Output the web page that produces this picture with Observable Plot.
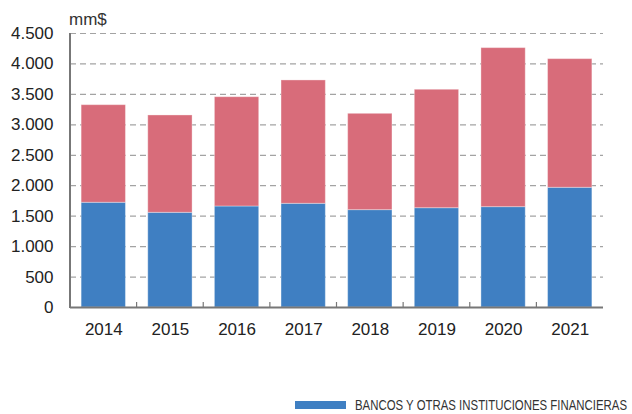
<!DOCTYPE html>
<html>
<head>
<meta charset="utf-8">
<script src="https://cdn.jsdelivr.net/npm/d3@7"></script>
<script src="https://cdn.jsdelivr.net/npm/@observablehq/plot@0.6"></script>
<style>
  html, body { margin: 0; padding: 0; background: #fff; }
  #wrap { position: relative; width: 632px; height: 414px; font-family: "Liberation Sans", Arial, sans-serif; color: #222; }
  #unit { position: absolute; left: 69px; top: 10px; font-size: 17px; color: #333; }
  #legend { position: absolute; left: 295px; top: 396px; display: flex; align-items: center; white-space: nowrap; }
  #legend .sw { width: 51px; height: 8px; background: #3f7fc2; margin-right: 9px; flex: none; }
  #legend .lb { font-family: "Liberation Sans", Arial, sans-serif; font-size: 15px; color: #333; transform-origin: left center; display: inline-block; }
</style>
</head>
<body>
<div id="wrap">
  <div id="chart"></div>
  <div id="unit">mm$</div>
  <div id="legend"><div class="sw"></div><div class="lb" id="lb">BANCOS Y OTRAS INSTITUCIONES FINANCIERAS</div></div>
</div>
<script>
const years = ["2014", "2015", "2016", "2017", "2018", "2019", "2020", "2021"];
const bancos = [1720, 1555, 1659, 1703, 1599, 1631, 1648, 1966];
const otros = [1603, 1599, 1795, 2026, 1582, 1945, 2612, 2113];
const series = ["BANCOS Y OTRAS INSTITUCIONES FINANCIERAS", "OTROS"];
const colors = ["#3f7fc2", "#d86c7a"];
const yTicks = [0, 500, 1000, 1500, 2000, 2500, 3000, 3500, 4000, 4500];

const rows = [];
years.forEach((y, i) => {
  rows.push({year: y, serie: series[0], value: bancos[i]});
  rows.push({year: y, serie: series[1], value: otros[i]});
});

const fmt = d => d3.format(",")(d).replace(/,/g, ".");

const chart = Plot.plot({
  width: 632,
  height: 340,
  marginLeft: 70,
  marginRight: 29,
  marginTop: 33,
  marginBottom: 33,
  style: {fontFamily: "'Liberation Sans', Arial, sans-serif", fontSize: "17px", color: "#222", background: "#fff"},
  x: {domain: years, paddingInner: 0.335, paddingOuter: 0.167, round: false, label: null},
  y: {domain: [0, 4500], label: null},
  color: {domain: series, range: colors},
  marks: [
    Plot.gridY(yTicks.slice(1), {stroke: "#999", strokeOpacity: 0.9, strokeDasharray: "6,4", strokeWidth: 1.2}),
    Plot.barY(rows, Plot.stackY({x: "year", y: "value", fill: "serie", order: series, stroke: "#fff", strokeOpacity: 0.35, strokeWidth: 1})),
    Plot.axisY(yTicks, {tickSize: 0, tickPadding: 17, tickFormat: fmt, fontSize: 17, fill: "#222"}),
    Plot.axisX({tickSize: 0, tickPadding: 15, fontSize: 17, fill: "#222"}),
    Plot.ruleY([0], {stroke: "#777", strokeWidth: 2}),
  ]
});

// vertical axis line and category separator ticks, positioned through Plot's scales
const sx = chart.scale("x");
const sy = chart.scale("y");
const svg = d3.select(chart);
const y0 = sy.apply(0), yTop = sy.apply(4500);
const x0 = sx.range[0];
svg.append("line").attr("x1", x0).attr("x2", x0).attr("y1", yTop).attr("y2", y0 + 1)
  .attr("stroke", "#777").attr("stroke-width", 2);
years.slice(1).forEach(y => {
  const bx = sx.apply(y) - (sx.step - sx.bandwidth) / 2;
  svg.append("line").attr("x1", bx).attr("x2", bx).attr("y1", y0).attr("y2", y0 - 5)
    .attr("stroke", "#777").attr("stroke-width", 1.2);
});
document.getElementById("chart").appendChild(chart);

// condense legend label to the reference's narrow width
const lb = document.getElementById("lb");
const w = lb.getBoundingClientRect().width;
lb.style.transform = `scaleX(${272 / w})`;
</script>
</body>
</html>
